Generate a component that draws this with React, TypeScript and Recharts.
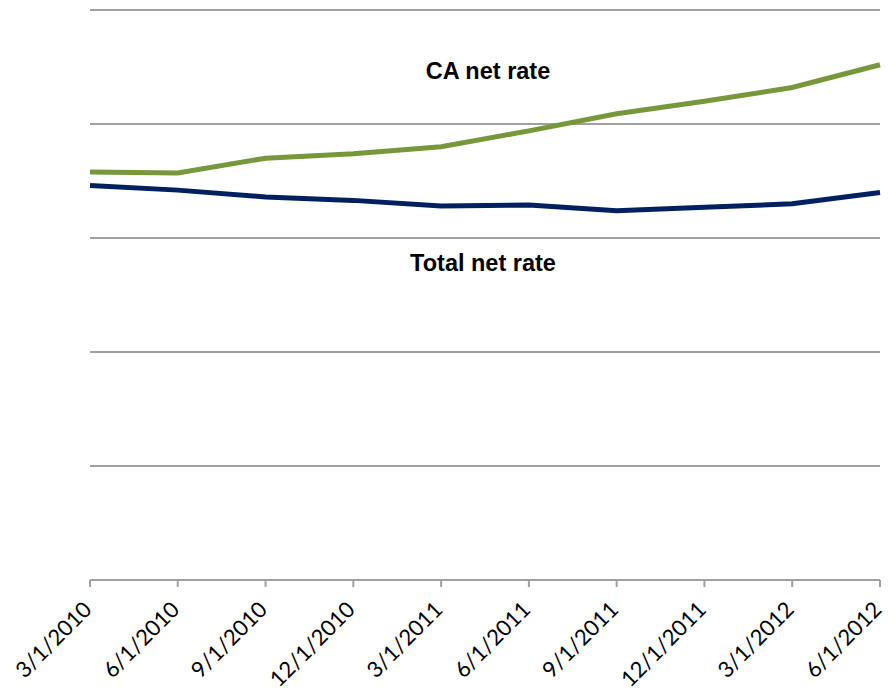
import { LineChart, Line, XAxis, YAxis, CartesianGrid } from 'recharts';

// quarterly dates on the x axis
const dates = [
    '3/1/2010', '6/1/2010', '9/1/2010', '12/1/2010', '3/1/2011',
    '6/1/2011', '9/1/2011', '12/1/2011', '3/1/2012', '6/1/2012',
];

// values (y axis unlabeled, 0..5 scale)
const caNetRate = [3.58, 3.57, 3.70, 3.74, 3.80, 3.94, 4.09, 4.20, 4.32, 4.52];
const totalNetRate = [3.46, 3.42, 3.36, 3.33, 3.28, 3.29, 3.24, 3.27, 3.30, 3.40];

const yTicks = [0, 1, 2, 3, 4, 5];

const data = dates.map((date, i) => ({
    date,
    ca: caNetRate[i],
    total: totalNetRate[i],
}));

function DateTick({ x, y, payload }: any) {
    const ax = x + 3;
    const ay = y + 22;
    return (
        <text
            x={ax}
            y={ay}
            textAnchor="end"
            transform={`rotate(-45, ${ax}, ${ay})`}
            fontFamily="Lato, 'Open Sans', sans-serif"
            fontSize={22}
            fill="#000"
        >
            {payload.value}
        </text>
    );
}

const noteStyle: React.CSSProperties = {
    position: 'absolute',
    fontFamily: "'Liberation Sans', Arial, sans-serif",
    fontWeight: 'bold',
    fontSize: 23.5,
    color: '#000',
    transform: 'translateX(-50%)',
    whiteSpace: 'nowrap',
    lineHeight: 1,
};

export default function App() {
    return (
        <div style={{ position: 'relative', width: 896, height: 697 }}>
            <style>{'body { margin: 0; overflow: hidden; }'}</style>
            <LineChart
                width={896}
                height={697}
                data={data}
                margin={{ top: 10, right: 16, left: 90, bottom: 0 }}
            >
                <CartesianGrid vertical={false} stroke="#a0a0a0" strokeWidth={2} />
                <XAxis
                    dataKey="date"
                    height={117}
                    interval={0}
                    stroke="#a0a0a0"
                    strokeWidth={2}
                    tickSize={7}
                    tick={<DateTick />}
                />
                <YAxis hide domain={[0, 5]} ticks={yTicks} />
                <Line
                    dataKey="total"
                    stroke="#00205f"
                    strokeWidth={5}
                    dot={false}
                    isAnimationActive={false}
                />
                <Line
                    dataKey="ca"
                    stroke="#77973b"
                    strokeWidth={5}
                    dot={false}
                    isAnimationActive={false}
                />
            </LineChart>
            <div style={{ ...noteStyle, left: 488, top: 60 }}>CA net rate</div>
            <div style={{ ...noteStyle, left: 483, top: 252 }}>Total net rate</div>
        </div>
    );
}
